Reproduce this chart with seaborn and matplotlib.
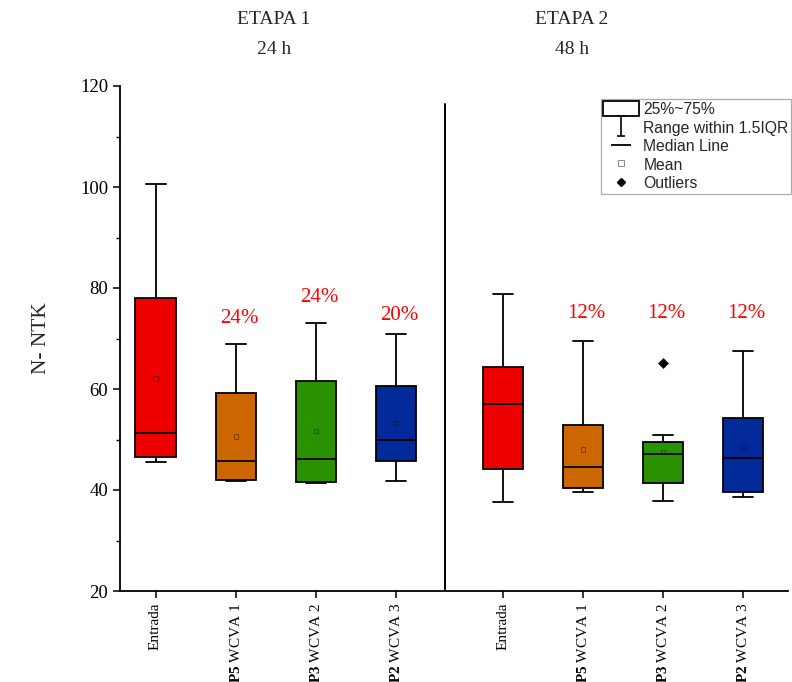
import matplotlib
matplotlib.use("Agg")
import matplotlib.pyplot as plt
import numpy as np
import pandas as pd
import seaborn as sns
from matplotlib.lines import Line2D
from matplotlib.patches import Patch
from matplotlib.path import Path
from matplotlib.ticker import MultipleLocator

sns.set_theme(style="ticks")
plt.rcParams["font.family"] = ["Liberation Serif", "DejaVu Serif"]
plt.rcParams["mathtext.fontset"] = "custom"
plt.rcParams["mathtext.rm"] = "Liberation Serif"
plt.rcParams["mathtext.bf"] = "Liberation Serif:bold"
plt.rcParams["xtick.color"] = "black"
plt.rcParams["ytick.color"] = "black"
plt.rcParams["axes.edgecolor"] = "black"

# ---- data -------------------------------------------------------------
etapas = ["ETAPA 1", "ETAPA 2"]
tiempos = ["24 h", "48 h"]
tratamientos = ["Entrada", "P5 WCVA 1", "P3 WCVA 2", "P2 WCVA 3"]
etiquetas_x = ["Entrada", r"$\mathbf{P5}$ WCVA 1", r"$\mathbf{P3}$ WCVA 2",
               r"$\mathbf{P2}$ WCVA 3"] * 2
colores = ["#EE0000", "#CC6600", "#2A9200", "#032A9A"] * 2

# summary statistics per box (etapa 1, then etapa 2)
bigote_inf = [45.5, 41.8, 41.4, 41.8, 37.7, 39.6, 37.9, 38.6]
q1 = [46.5, 42.0, 41.6, 45.7, 44.1, 40.4, 41.3, 39.7]
mediana = [51.3, 45.7, 46.2, 50.0, 57.0, 44.6, 47.2, 46.3]
q3 = [78.0, 59.3, 61.6, 60.6, 64.4, 52.8, 49.6, 54.3]
bigote_sup = [100.6, 69.0, 73.1, 70.9, 78.8, 69.6, 50.8, 67.6]
media = [62.1, 50.6, 51.7, 53.3, 56.0, 48.0, 47.5, 48.4]

# outliers: (box index, value)
atipicos_caja = [6]
atipicos_valor = [65.1]

# removal percentages written above each treatment
remocion = ["", "24%", "24%", "20%", "", "12%", "12%", "12%"]
remocion_y = [0, 73.9, 78.2, 74.5, 0, 74.9, 74.9, 74.9]

# ---- layout -----------------------------------------------------------
posiciones = [1, 2, 3, 4, 5.33, 6.33, 7.33, 8.33]
separador_x = 4.61

filas = []
for i, p in enumerate(posiciones):
    caja = f"{etapas[i // 4]} - {tratamientos[i % 4]}"
    for v in (bigote_inf[i], q1[i], mediana[i], q3[i], bigote_sup[i]):
        filas.append({"pos": p, "caja": caja, "valor": v})
df = pd.DataFrame(filas)

fig = plt.figure(figsize=(7.92, 6.82), dpi=100)
ax = fig.add_axes([120 / 792, 1 - 591 / 682, 668 / 792, 505 / 682])

sns.boxplot(data=df, x="pos", y="valor", hue="caja", palette=colores,
            native_scale=True, dodge=False, width=0.5, saturation=1,
            linecolor="black", linewidth=1.3, whis=1.5, showfliers=False,
            legend=False, ax=ax)

# means
sns.scatterplot(x=posiciones, y=media, marker="s", s=10, facecolor="none",
                edgecolor="#00000070", linewidth=0.6, ax=ax, zorder=5)
# outliers
sns.scatterplot(x=[posiciones[i] for i in atipicos_caja], y=atipicos_valor,
                marker="D", s=26, color="black", edgecolor="black", ax=ax,
                zorder=5)

for p, txt, y in zip(posiciones, remocion, remocion_y):
    if txt:
        ax.text(p + 0.04, y, txt, color="#FF0000", fontsize=15,
                ha="center", va="center")

ax.axvline(separador_x, ymin=0, ymax=(116.4 - 20) / 100, color="black",
           lw=1.4)

ax.set_xlim(0.557, 8.887)
ax.set_ylim(20, 120)
ax.set_xticks(posiciones)
ax.set_xticklabels(etiquetas_x, rotation=90, fontsize=11)
ax.yaxis.set_major_locator(MultipleLocator(20))
ax.yaxis.set_minor_locator(MultipleLocator(10))
ax.tick_params(axis="y", which="major", labelsize=13.5, length=5, width=1.1)
ax.tick_params(axis="y", which="minor", length=3, width=1.0)
ax.tick_params(axis="x", length=5, width=1.1)
ax.set_xlabel("")
ax.set_ylabel("N- NTK", fontsize=15.5)
ax.yaxis.set_label_coords(-0.103, 0.5)
sns.despine(ax=ax)
for s in ("left", "bottom"):
    ax.spines[s].set_linewidth(1.3)

for k in range(2):
    cx = [274, 572][k] / 792
    fig.text(cx, 1 - 19 / 682, etapas[k], ha="center", va="center",
             fontsize=14)
    fig.text(cx, 1 - 50 / 682, tiempos[k], ha="center", va="center",
             fontsize=14)

# legend
ibeam = Path([(-0.4, 1), (0.4, 1), (0, 1), (0, -1), (-0.4, -1), (0.4, -1)],
             [Path.MOVETO, Path.LINETO, Path.MOVETO, Path.LINETO,
              Path.MOVETO, Path.LINETO])
handles = [
    Patch(facecolor="white", edgecolor="black", linewidth=1.3),
    Line2D([], [], ls="none", marker=ibeam, markersize=14, mew=1.2,
           color="black"),
    Line2D([], [], ls="none", marker="_", markersize=14, mew=1.3,
           color="black"),
    Line2D([], [], ls="none", marker="s", markersize=4, mfc="none",
           mec="#888888", mew=0.7),
    Line2D([], [], ls="none", marker="D", markersize=4.5, color="black"),
]
labels = ["25%~75%", "Range within 1.5IQR", "Median Line", "Mean", "Outliers"]
leg = fig.legend(handles, labels, loc="upper left",
                 bbox_to_anchor=(601 / 792, 1 - 99 / 682),
                 prop={"family": "Liberation Sans", "size": 11.3},
                 frameon=True, fancybox=False, handlelength=2.25,
                 handleheight=1.1, handletextpad=0.3, labelspacing=0.17,
                 borderpad=0.15, borderaxespad=0)
leg.get_frame().set_edgecolor("#999999")
leg.get_frame().set_linewidth(0.9)

fig.savefig("out.png", dpi=100)
